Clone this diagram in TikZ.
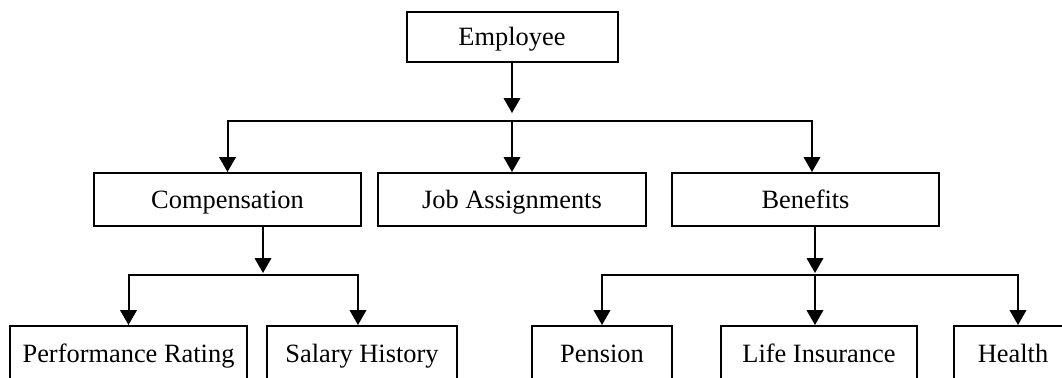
\documentclass[tikz,border=0pt]{standalone}
\usepackage{fontspec}
\setmainfont{Liberation Serif}
\usetikzlibrary{arrows.meta}

\begin{document}
\begin{tikzpicture}[x=.5pt,y=-.5pt,
  box/.style={draw, line width=1pt, inner sep=0pt, text height=8.6pt, text depth=0pt, font=\fontsize{13.2}{15}\selectfont},
  top/.style={box, minimum height=25pt},
  mid/.style={box, minimum height=26.5pt},
  low/.style={box, minimum height=27.5pt},
  arr/.style={draw, line width=1pt, -{Triangle[width=8.2pt,length=7.4pt]}}]
\useasboundingbox (0,0) rectangle (1062,377);
\clip (0,0) rectangle (1062,377);
\node [top, minimum width=105.5pt] (emp) at (512,37) {Employee};
\node [mid, minimum width=133.5pt] (comp) at (227.5,199.5) {Compensation};
\node [mid, minimum width=134pt] (job) at (512,199.5) {Job Assignments};
\node [mid, minimum width=133.5pt] (ben) at (805.5,199.5) {Benefits};
\node [low, minimum width=118.5pt] (perf) at (128.5,353.5) {Performance Rating};
\node [low, minimum width=95pt] (sal) at (362,353.5) {Salary History};
\node [low, minimum width=70pt] (pen) at (602,353.5) {Pension};
\node [low, minimum width=98pt] (life) at (819,353.5) {Life Insurance};
\node [low, minimum width=59pt] (health) at (1013,353.5) {Health};
\coordinate (empend) at (512,113);
\coordinate (topbar) at (512,121);
\coordinate (compend) at (263,273);
\coordinate (compbar) at (263,275);
\coordinate (benend) at (815,273);
\coordinate (benbar) at (815,275);
\path [arr] (emp) -- (empend);
\path [arr] (topbar) -- (job.north);
\path [arr] (topbar) -| (comp.north);
\path [arr] (topbar) -| ([xshift=3.25pt]ben.north);
\path [arr] ([xshift=17.75pt]comp.south) -- (compend);
\path [arr] (compbar) -| (perf.north);
\path [arr] (compbar) -| ([xshift=-2pt]sal.north);
\path [arr] ([xshift=4.75pt]ben.south) -- (benend);
\path [arr] (benbar) -| (pen.north);
\path [arr] (benbar) -- ([xshift=-2pt]life.north);
\path [arr] (benbar) -| ([xshift=2.5pt]health.north);
\end{tikzpicture}
\end{document}
